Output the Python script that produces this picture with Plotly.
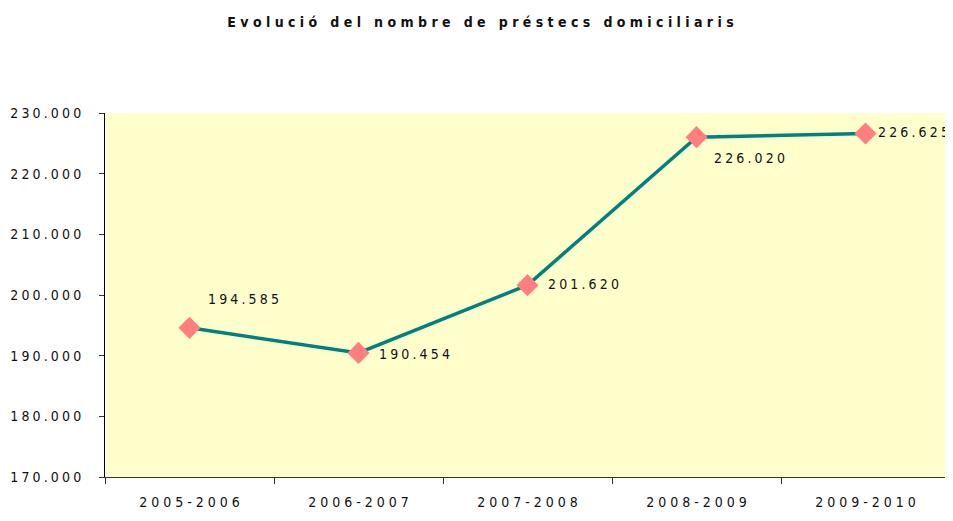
import plotly.graph_objects as go

FONT = "DejaVu Sans Condensed, Liberation Sans Narrow, Arial Narrow, sans-serif"

seasons = ["2005-2006", "2006-2007", "2007-2008", "2008-2009", "2009-2010"]
loans = [194585, 190454, 201620, 226020, 226625]
y_ticks = [170000, 180000, 190000, 200000, 210000, 220000, 230000]

# label offsets (px) relative to each marker
label_shift = [(16, 29), (18, -1), (18, 1), (15, -21), (10, 1)]


def spaced(s, gap=" "):
    return gap.join(s)


def thousands(v):
    return f"{v:,}".replace(",", ".")


FOUR = "\u2005"

fig = go.Figure()
fig.add_trace(
    go.Scatter(
        x=seasons,
        y=loans,
        mode="lines+markers",
        line={"color": "#008080", "width": 3.5},
        marker={"symbol": "diamond", "size": 17, "color": "#FF7F7F"},
        showlegend=False,
        cliponaxis=False,
    )
)

for s, v, (dx, dy) in zip(seasons, loans, label_shift):
    fig.add_annotation(
        x=s,
        y=v,
        text=spaced(thousands(v), FOUR),
        showarrow=False,
        xanchor="left",
        yanchor="middle",
        xshift=dx,
        yshift=dy,
        font={"size": 14, "color": "#111111", "family": FONT},
    )

# the page body adds an 8px offset, so the figure is sized/margined to compensate
fig.update_layout(
    width=945,
    height=513,
    paper_bgcolor="white",
    plot_bgcolor="#FFFFCC",
    margin={"l": 97, "r": 3, "t": 105, "b": 44, "autoexpand": False},
    font={"family": FONT, "color": "#111111", "size": 14},
    title={
        "text": "<b>" + spaced("Evolució del nombre de préstecs domiciliaris") + "</b>",
        "x": 0.5,
        "xanchor": "center",
        "y": 0.973,
        "yanchor": "middle",
        "font": {"size": 14, "family": FONT, "color": "#111111"},
    },
)
fig.update_xaxes(
    type="category",
    categoryorder="array",
    categoryarray=seasons,
    range=[-0.5, len(seasons) - 0.5],
    tickvals=seasons,
    ticktext=[spaced(s) for s in seasons],
    tickson="boundaries",
    ticks="outside",
    ticklen=6,
    tickcolor="#333333",
    ticklabelstandoff=12,
    showgrid=False,
    showline=True,
    linecolor="#333333",
    linewidth=1,
    tickfont={"size": 14},
)
fig.update_yaxes(
    range=[170000, 230000],
    tickvals=y_ticks,
    ticktext=[spaced(thousands(v), FOUR) for v in y_ticks],
    ticks="outside",
    ticklen=5,
    tickcolor="#333333",
    ticklabelstandoff=15,
    showgrid=False,
    zeroline=False,
    showline=True,
    linecolor="#000000",
    linewidth=1,
    tickfont={"size": 14},
)

fig.write_html("out.html")
